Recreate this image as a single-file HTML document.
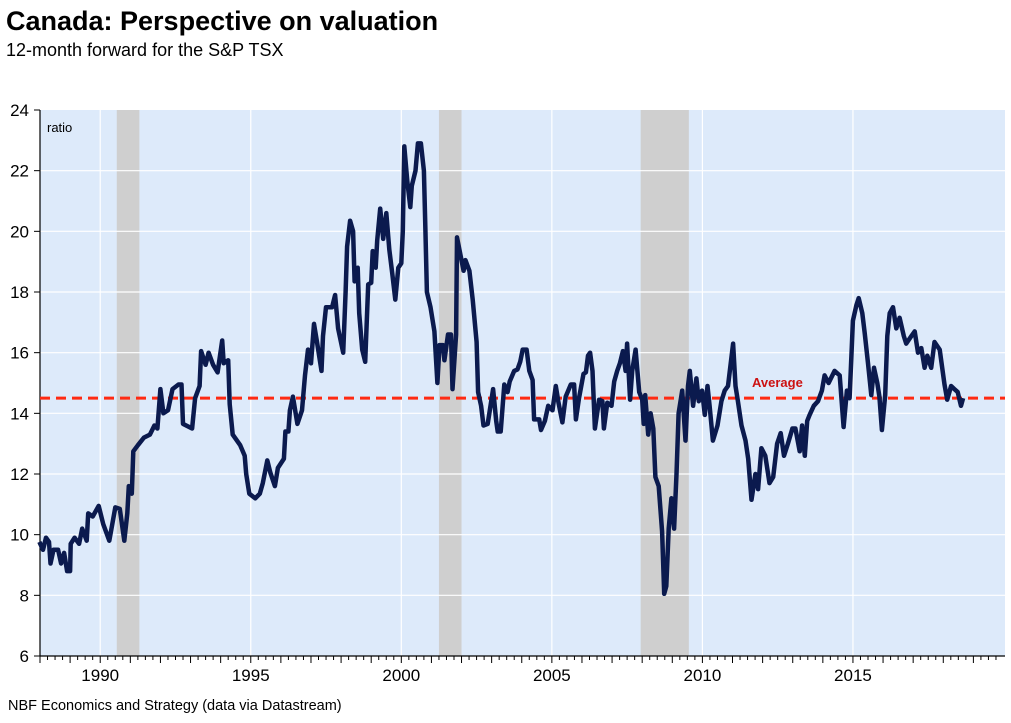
<!DOCTYPE html>
<html><head><meta charset="utf-8"><style>
body{margin:0;background:#fff;width:1011px;height:718px;overflow:hidden;font-family:"Liberation Sans",Arial,sans-serif}
svg text{font-family:"Liberation Sans",Arial,sans-serif}
</style></head><body>
<svg id="chart" width="1011" height="718" xmlns="http://www.w3.org/2000/svg">
<text x="6" y="30" font-size="27" font-weight="bold" fill="#000">Canada: Perspective on valuation</text>
<text x="6" y="56" font-size="18" fill="#000">12-month forward for the S&amp;P TSX</text>
<text x="8" y="710" font-size="14.5" fill="#000">NBF Economics and Strategy (data via Datastream)</text>
<g id="plot"></g>
</svg>
<script>
const years=[1987.98,1988.1,1988.2,1988.3,1988.35,1988.45,1988.6,1988.7,1988.8,1988.9,1989.0,1989.02,1989.15,1989.3,1989.4,1989.55,1989.6,1989.75,1989.95,1990.1,1990.3,1990.5,1990.65,1990.8,1990.9,1990.95,1991.05,1991.1,1991.25,1991.45,1991.65,1991.8,1991.9,1992.0,1992.1,1992.25,1992.4,1992.6,1992.7,1992.75,1993.05,1993.15,1993.3,1993.35,1993.5,1993.6,1993.75,1993.9,1994.05,1994.1,1994.25,1994.3,1994.4,1994.65,1994.8,1994.85,1994.95,1995.15,1995.3,1995.4,1995.55,1995.65,1995.8,1995.9,1996.1,1996.15,1996.25,1996.3,1996.4,1996.55,1996.7,1996.8,1996.9,1997.0,1997.1,1997.2,1997.35,1997.4,1997.5,1997.7,1997.8,1997.9,1998.07,1998.15,1998.2,1998.3,1998.4,1998.45,1998.55,1998.6,1998.7,1998.8,1998.9,1999.0,1999.05,1999.15,1999.2,1999.3,1999.4,1999.5,1999.6,1999.7,1999.8,1999.9,2000.0,2000.05,2000.1,2000.2,2000.3,2000.35,2000.47,2000.55,2000.65,2000.75,2000.8,2000.85,2000.97,2001.1,2001.2,2001.27,2001.38,2001.43,2001.55,2001.65,2001.7,2001.82,2001.85,2001.95,2002.07,2002.13,2002.26,2002.37,2002.5,2002.55,2002.65,2002.73,2002.87,2003.05,2003.15,2003.2,2003.3,2003.42,2003.53,2003.6,2003.75,2003.86,2003.95,2004.03,2004.16,2004.25,2004.36,2004.41,2004.58,2004.64,2004.77,2004.88,2005.02,2005.13,2005.22,2005.35,2005.46,2005.63,2005.74,2005.8,2005.9,2006.05,2006.13,2006.2,2006.27,2006.35,2006.43,2006.57,2006.68,2006.73,2006.84,2006.98,2007.07,2007.17,2007.26,2007.36,2007.45,2007.5,2007.6,2007.67,2007.78,2007.9,2008.0,2008.05,2008.1,2008.2,2008.28,2008.37,2008.44,2008.55,2008.66,2008.73,2008.8,2008.88,2008.97,2009.06,2009.14,2009.21,2009.33,2009.44,2009.52,2009.58,2009.69,2009.8,2009.88,2009.99,2010.08,2010.17,2010.24,2010.35,2010.5,2010.63,2010.74,2010.85,2011.02,2011.1,2011.18,2011.3,2011.43,2011.52,2011.63,2011.76,2011.85,2011.96,2012.09,2012.23,2012.35,2012.48,2012.6,2012.71,2012.84,2012.99,2013.09,2013.23,2013.31,2013.4,2013.48,2013.56,2013.7,2013.84,2013.97,2014.06,2014.19,2014.39,2014.56,2014.69,2014.8,2014.89,2015.0,2015.11,2015.19,2015.31,2015.39,2015.5,2015.61,2015.7,2015.81,2015.88,2015.96,2016.07,2016.14,2016.22,2016.33,2016.44,2016.55,2016.69,2016.77,2016.94,2017.05,2017.16,2017.27,2017.38,2017.47,2017.6,2017.71,2017.88,2018.04,2018.13,2018.26,2018.37,2018.48,2018.59,2018.66,2018.7];
const ratios=[9.76,9.5,9.9,9.76,9.05,9.5,9.5,9.05,9.4,8.8,8.8,9.7,9.9,9.7,10.2,9.8,10.7,10.6,10.95,10.35,9.8,10.9,10.85,9.8,10.7,11.6,11.35,12.75,12.95,13.2,13.3,13.6,13.5,14.8,14.0,14.1,14.8,14.95,14.95,13.65,13.5,14.5,14.9,16.05,15.6,16.0,15.6,15.35,16.4,15.65,15.75,14.3,13.3,12.95,12.6,12.0,11.35,11.2,11.35,11.7,12.45,12.05,11.6,12.2,12.5,13.4,13.4,14.1,14.55,13.65,14.1,15.25,16.1,15.65,16.95,16.35,15.4,16.55,17.5,17.5,17.9,16.8,16.0,18.0,19.5,20.35,20.0,18.35,18.8,17.3,16.1,15.7,18.25,18.3,19.35,18.8,19.7,20.75,19.75,20.6,19.4,18.6,17.75,18.8,18.95,20.0,22.8,21.65,20.8,21.5,22.0,22.9,22.9,22.0,20.05,18.0,17.5,16.7,15.0,16.25,16.25,15.75,16.6,16.6,14.8,16.6,19.8,19.3,18.7,19.05,18.7,17.75,16.35,14.7,14.25,13.6,13.65,14.8,13.75,13.4,13.4,14.95,14.7,15.05,15.4,15.45,15.7,16.1,16.1,15.4,15.1,13.8,13.8,13.45,13.75,14.25,14.1,14.9,14.35,13.7,14.55,14.95,14.95,13.8,14.5,15.3,15.35,15.9,16.0,15.4,13.5,14.45,14.4,13.5,14.35,14.25,15.05,15.4,15.65,16.05,15.4,16.3,14.45,15.4,16.1,14.7,14.45,13.65,14.6,13.3,14.0,13.5,11.9,11.6,10.1,8.05,8.3,10.2,11.2,10.2,12.0,14.0,14.75,13.1,14.9,15.4,14.25,15.15,14.4,14.75,13.95,14.9,14.25,13.1,13.6,14.4,14.75,14.9,16.3,14.9,14.4,13.6,13.1,12.5,11.15,12.0,11.5,12.85,12.6,11.7,11.9,13.0,13.35,12.6,13.0,13.5,13.5,12.75,13.6,12.6,13.75,13.95,14.25,14.4,14.75,15.25,15.0,15.4,15.25,13.55,14.75,14.5,17.05,17.55,17.8,17.3,16.65,15.65,14.6,15.5,15.0,14.55,13.45,14.6,16.55,17.3,17.5,16.8,17.15,16.55,16.3,16.55,16.7,16.0,16.15,15.5,15.9,15.5,16.35,16.1,14.95,14.45,14.9,14.8,14.7,14.25,14.5];
const recessionStarts=[1990.55,2001.25,2007.95];
const recessionEnds=[1991.3,2002.0,2009.55];
const averageValue=[14.5];
const yTicks=[6,8,10,12,14,16,18,20,22,24];
const xTickYears=[1990,1995,2000,2005,2010,2015];

const L=40,R=1005,T=110,B=656,X0=1988,X1=2020.05,Y0=6,Y1=24;
const sx=v=>L+(v-X0)/(X1-X0)*(R-L);
const sy=v=>B-(v-Y0)/(Y1-Y0)*(B-T);
const NS='http://www.w3.org/2000/svg';
const g=document.getElementById('plot');
function mk(tag,attrs,parent){const e=document.createElementNS(NS,tag);for(const k in attrs)e.setAttribute(k,attrs[k]);(parent||g).appendChild(e);return e;}

let e=mk('rect',{x:L,y:T,width:R-L,height:B-T,fill:'#ddeafa'});


recessionStarts.forEach((s,i)=>{
  const r=mk('rect',{x:sx(s),y:T,width:sx(recessionEnds[i])-sx(s),height:B-T,fill:'#cfcfcf'});
  
  
});
yTicks.forEach(v=>{
  if(v>Y0&&v<Y1){const l=mk('line',{x1:L,x2:R,y1:sy(v),y2:sy(v),stroke:'#fff','stroke-width':1.2});
  
  }
  const tk=mk('line',{x1:L-6,x2:L,y1:sy(v),y2:sy(v),stroke:'#000','stroke-width':1});
  
  
  const t=mk('text',{x:L-11,y:sy(v)+6,'text-anchor':'end','font-size':17,fill:'#000'});
  t.textContent=v;
  
  
});
xTickYears.forEach(y=>{
  const l=mk('line',{x1:sx(y),x2:sx(y),y1:T,y2:B,stroke:'#fff','stroke-width':1.2});
  
  
  const t=mk('text',{x:sx(y),y:B+25,'text-anchor':'middle','font-size':17,fill:'#000'});
  t.textContent=y;
  
  
});
for(let q=X0*4;q<=2019.75*4;q++){
  const y=q/4, major=(q%4===0);
  const tk=mk('line',{x1:sx(y),x2:sx(y),y1:B,y2:B+(major?7:4),stroke:'#000','stroke-width':1});
  
  
}
let ax=mk('line',{x1:L,x2:L,y1:T,y2:B,stroke:'#000','stroke-width':1.2});


ax=mk('line',{x1:L,x2:R,y1:B,y2:B,stroke:'#000','stroke-width':1.2});


let u=mk('text',{x:47,y:132,'font-size':13,fill:'#000'});
u.textContent='ratio';



const avg=mk('line',{x1:L,x2:R,y1:sy(averageValue[0]),y2:sy(averageValue[0]),stroke:'#ff2a12','stroke-width':3,'stroke-dasharray':'10,6'});


const al=mk('text',{x:752,y:sy(averageValue[0])-11,'font-size':13,'font-weight':'bold',fill:'#cc1111'});
al.textContent='Average';



const d=years.map((y,i)=>(i?'L':'M')+sx(y).toFixed(1)+','+sy(ratios[i]).toFixed(1)).join('');
const p=mk('path',{d:d,fill:'none',stroke:'#0b1a4e','stroke-width':4.5,'stroke-linejoin':'round'});


</script>
</body></html>
